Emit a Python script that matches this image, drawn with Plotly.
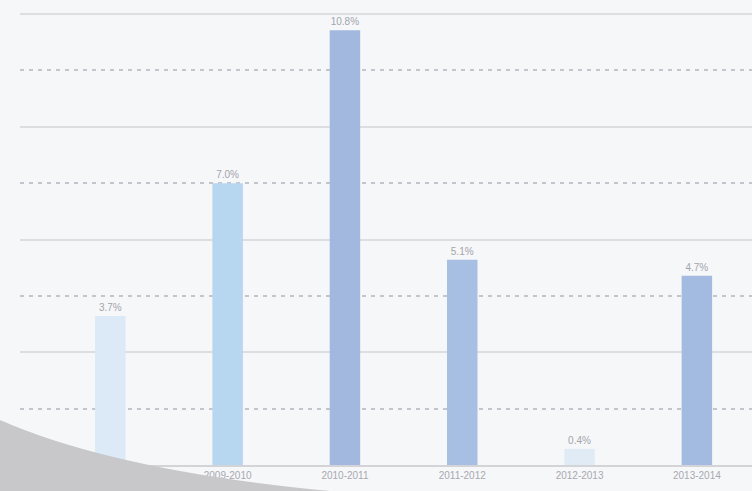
import plotly.graph_objects as go

# Year-over-year growth by period
periods = ["2008-2009", "2009-2010", "2010-2011", "2011-2012", "2012-2013", "2013-2014"]
growth = [3.7, 7.0, 10.8, 5.1, 0.4, 4.7]
labels = ["3.7%", "7.0%", "10.8%", "5.1%", "0.4%", "4.7%"]
bar_colors = ["#dce9f6", "#b7d6f0", "#a2b8df", "#a7bfe2", "#e0ebf6", "#a3bbe0"]

fig = go.Figure(
    go.Bar(
        x=periods,
        y=growth,
        width=0.26,
        marker=dict(color=bar_colors, line=dict(width=0)),
        text=labels,
        textposition="outside",
        cliponaxis=False,
        textfont=dict(family="Liberation Sans, Arial, sans-serif", size=10, color="#a4a4ac"),
        hoverinfo="skip",
    )
)

fig.update_layout(
    width=752,
    height=491,
    margin=dict(l=20, r=0, t=0, b=26),
    paper_bgcolor="#f6f7f9",
    plot_bgcolor="#f6f7f9",
    showlegend=False,
    font=dict(family="Liberation Sans, Arial, sans-serif", size=10, color="#a4a4ac"),
)

fig.update_xaxes(
    type="category",
    range=[-0.77, 5.47],
    showgrid=False,
    showline=True,
    linecolor="#d4d4d8",
    linewidth=2,
    ticks="",
    tickfont=dict(size=10, color="#a8a8b0"),
    fixedrange=True,
)

fig.update_yaxes(
    range=[0, 11.55],
    tick0=0,
    dtick=2.8,
    showticklabels=False,
    showgrid=True,
    gridcolor="#dedee2",
    gridwidth=1.5,
    zeroline=False,
    minor=dict(
        dtick=1.4,
        tick0=0,
        showgrid=True,
        gridcolor="#c4c4cc",
        gridwidth=2,
        griddash="4px,5px",
    ),
    fixedrange=True,
)

# curled page corner shading at lower left
fig.add_shape(
    type="path",
    xref="paper",
    yref="paper",
    path="M -0.0273,0.097 Q 0.13,-0.012 0.4235,-0.0559 L -0.0273,-0.0559 Z",
    fillcolor="#c8c8ca",
    line=dict(width=0),
    layer="above",
)

fig.write_html("out.html")
